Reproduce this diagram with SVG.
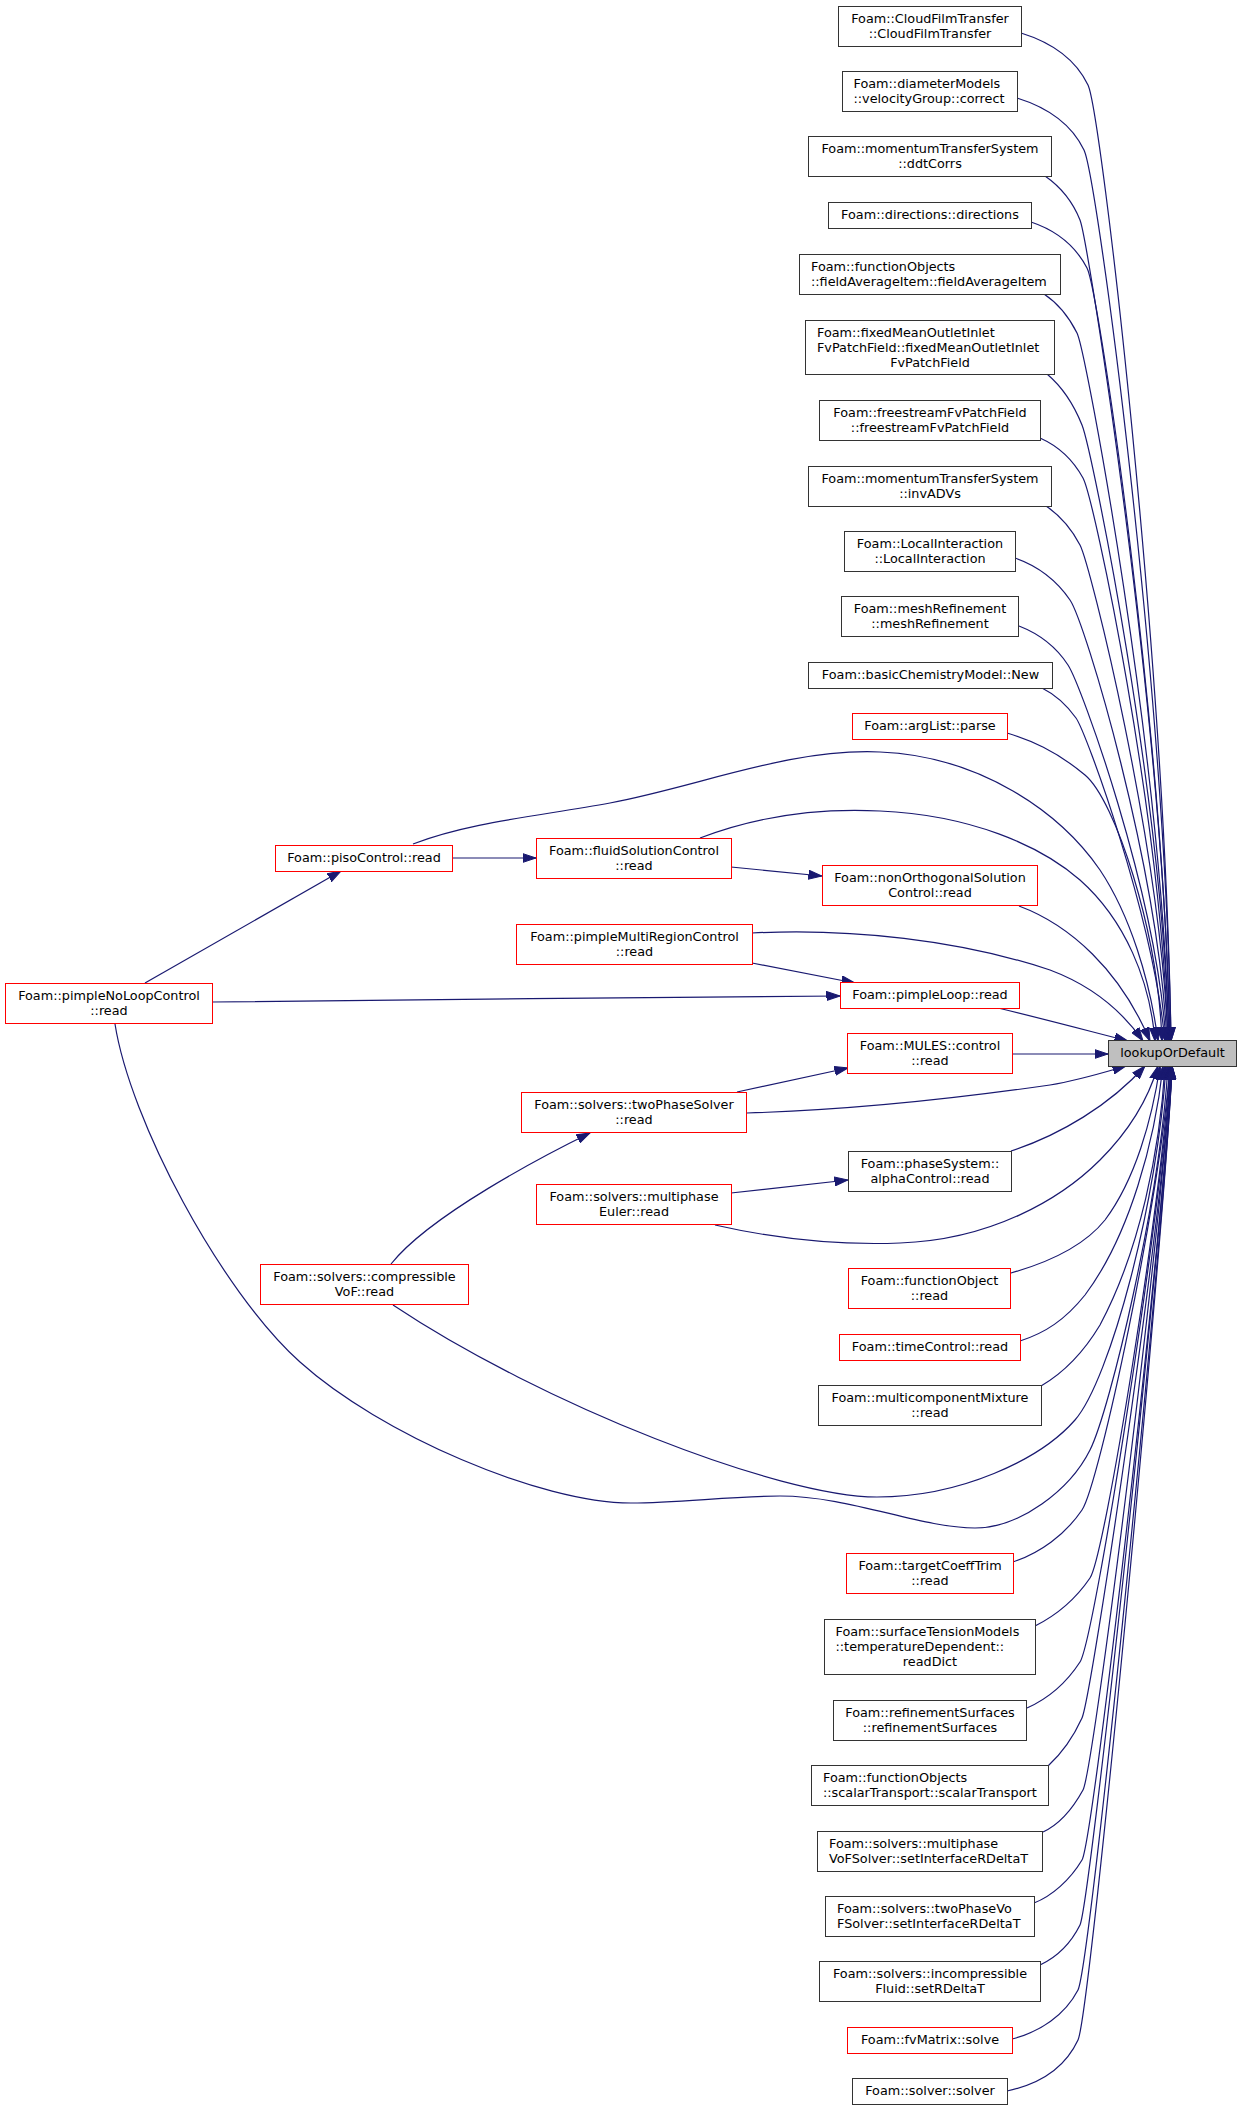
<svg xmlns="http://www.w3.org/2000/svg" width="1241" height="2110" viewBox="0 0 1241 2110">
<defs>
<style>
text{font-family:"DejaVu Sans","Liberation Sans",sans-serif;font-size:12.8px;fill:#000}
.m{text-anchor:middle}
.n rect{fill:#fff;stroke:#333;stroke-width:1}
.r rect{fill:#fff;stroke:#f00;stroke-width:1}
.g rect{fill:#bfbfbf;stroke:#333;stroke-width:1}
#edges path{fill:none;stroke:#191970;stroke-width:1.2;marker-end:url(#ah)}
</style>
<marker id="ah" markerUnits="userSpaceOnUse" markerWidth="14" markerHeight="10" viewBox="0 0 14 10" refX="13.5" refY="5" orient="auto">
<path d="M0,0.5 L13.5,5 L0,9.5 z" fill="#191970" stroke="#191970" stroke-width="1"/>
</marker>
</defs>
<rect width="1241" height="2110" fill="#fff"/>
<g id="edges">
<path d="M1021,33 C1050,42 1075,58 1088,85 S1165,659 1171,1041"/>
<path d="M1017,98 C1046,107 1071,123 1084,150 S1165,685 1171,1041"/>
<path d="M1045,176 C1058,185 1072,200 1080,220 S1163,713 1170,1041"/>
<path d="M1031,222 C1055,230 1075,245 1087,268 S1163,732 1170,1041"/>
<path d="M1044,294 C1056,302 1068,315 1077,333 S1162,758 1169,1041"/>
<path d="M1047,374 C1060,385 1072,400 1082,425 S1162,795 1169,1041"/>
<path d="M1040,438 C1058,446 1072,458 1083,478 S1161,816 1168,1041"/>
<path d="M1046,506 C1058,514 1070,526 1080,545 S1160,843 1168,1041"/>
<path d="M1015,558 C1035,565 1055,578 1070,600 S1158,865 1167,1041"/>
<path d="M1019,626 C1037,633 1055,645 1068,665 S1156,891 1166,1041"/>
<path d="M1042,688 C1054,694 1066,704 1076,718 S1152,912 1165,1041"/>
<path d="M1007,733 C1030,740 1055,750 1085,775 S1158,930 1162,1041"/>
<path d="M413,844 C470,822 540,816 610,803 C700,786 790,748 880,752 C980,756 1060,812 1100,870 C1130,915 1150,980 1158,1041"/>
<path d="M700,838 C760,815 820,808 880,811 C970,815 1040,845 1080,880 C1125,920 1150,980 1155,1041"/>
<path d="M1019,906 C1070,925 1120,970 1150,1041"/>
<path d="M752,933 C850,928 960,940 1050,970 C1090,985 1120,1008 1143,1041"/>
<path d="M998,1008 C1040,1018 1085,1030 1128,1041"/>
<path d="M1012,1054 L1108,1054"/>
<path d="M747,1113 C850,1110 960,1098 1050,1085 C1080,1080 1105,1072 1126,1066"/>
<path d="M1011,1151 C1060,1135 1110,1105 1145,1066"/>
<path d="M715,1225 C790,1242 850,1245 900,1243 C990,1240 1060,1200 1100,1160 C1130,1130 1148,1100 1158,1066"/>
<path d="M1011,1273 C1050,1262 1085,1245 1105,1220 C1135,1180 1152,1120 1160,1066"/>
<path d="M1020,1341 C1045,1333 1065,1320 1085,1295 C1130,1235 1155,1140 1163,1066"/>
<path d="M1041,1386 C1065,1372 1085,1350 1100,1325 C1140,1250 1160,1150 1165,1066"/>
<path d="M393,1305 C543,1405 780,1497 877,1497 C960,1497 1040,1460 1075,1420 S1158,1200 1166,1066"/>
<path d="M115,1024 C130,1120 220,1290 300,1362 C380,1434 540,1503 631,1503 C680,1503 730,1496 780,1496 C850,1496 920,1528 975,1528 C1020,1528 1070,1490 1090,1450 C1110,1410 1160,1200 1168,1066"/>
<path d="M1013,1562 C1040,1553 1065,1535 1082,1510 S1160,1200 1170,1066"/>
<path d="M1035,1626 C1055,1616 1075,1600 1090,1578 S1162,1200 1170,1066"/>
<path d="M1027,1708 C1045,1700 1065,1685 1080,1662 S1163,1200 1171,1066"/>
<path d="M1048,1766 C1060,1755 1072,1740 1082,1718 S1165,1200 1171,1066"/>
<path d="M1043,1832 C1058,1825 1072,1810 1083,1790 S1165,1200 1171,1066"/>
<path d="M1034,1903 C1052,1896 1070,1880 1082,1860 S1166,1200 1172,1066"/>
<path d="M1040,1965 C1055,1958 1070,1945 1080,1925 S1166,1200 1172,1066"/>
<path d="M1012,2039 C1040,2032 1065,2015 1078,1990 S1167,1200 1172,1066"/>
<path d="M1007,2091 C1040,2084 1065,2068 1078,2040 S1167,1200 1172,1066"/>
<path d="M145,983 L341,871"/>
<path d="M452,858 L536,858"/>
<path d="M731,867 L822,876"/>
<path d="M752,963 L855,983"/>
<path d="M212,1002 C400,1000 650,997 840,996"/>
<path d="M737,1092 L848,1068"/>
<path d="M731,1193 L848,1180"/>
<path d="M391,1264 C430,1215 545,1155 590,1133"/>
</g>
<g id="n1" class="n"><rect x="838.5" y="6.5" width="183" height="40"/><text class="m" x="930" y="23">Foam::CloudFilmTransfer</text><text class="m" x="930" y="38">::CloudFilmTransfer</text></g>
<g id="n2" class="n"><rect x="842.5" y="71.5" width="175" height="40"/><text x="853.5" y="88">Foam::diameterModels</text><text x="853.5" y="103">::velocityGroup::correct</text></g>
<g id="n3" class="n"><rect x="808.5" y="136.5" width="243" height="40"/><text class="m" x="930" y="153">Foam::momentumTransferSystem</text><text class="m" x="930" y="168">::ddtCorrs</text></g>
<g id="n4" class="n"><rect x="828.5" y="202.5" width="203" height="26"/><text class="m" x="930" y="219">Foam::directions::directions</text></g>
<g id="n5" class="n"><rect x="799.5" y="254.5" width="261" height="40"/><text x="811" y="271">Foam::functionObjects</text><text x="811" y="286">::fieldAverageItem::fieldAverageItem</text></g>
<g id="n6" class="n"><rect x="805.5" y="320.5" width="249" height="54"/><text x="817" y="337">Foam::fixedMeanOutletInlet</text><text x="817" y="352">FvPatchField::fixedMeanOutletInlet</text><text class="m" x="930" y="367">FvPatchField</text></g>
<g id="n7" class="n"><rect x="819.5" y="400.5" width="221" height="40"/><text class="m" x="930" y="417">Foam::freestreamFvPatchField</text><text class="m" x="930" y="432">::freestreamFvPatchField</text></g>
<g id="n8" class="n"><rect x="808.5" y="466.5" width="243" height="40"/><text class="m" x="930" y="483">Foam::momentumTransferSystem</text><text class="m" x="930" y="498">::invADVs</text></g>
<g id="n9" class="n"><rect x="844.5" y="531.5" width="171" height="40"/><text class="m" x="930" y="548">Foam::LocalInteraction</text><text class="m" x="930" y="563">::LocalInteraction</text></g>
<g id="n10" class="n"><rect x="841.5" y="596.5" width="177" height="40"/><text class="m" x="930" y="613">Foam::meshRefinement</text><text class="m" x="930" y="628">::meshRefinement</text></g>
<g id="n11" class="n"><rect x="808.5" y="662.5" width="244" height="26"/><text class="m" x="930.5" y="679">Foam::basicChemistryModel::New</text></g>
<g id="n12" class="r"><rect x="852.5" y="713.5" width="155" height="26"/><text class="m" x="930" y="730">Foam::argList::parse</text></g>
<g id="n13" class="r"><rect x="822.5" y="865.5" width="215" height="40"/><text class="m" x="930" y="882">Foam::nonOrthogonalSolution</text><text class="m" x="930" y="897">Control::read</text></g>
<g id="n14" class="r"><rect x="840.5" y="982.5" width="179" height="26"/><text class="m" x="930" y="999">Foam::pimpleLoop::read</text></g>
<g id="n15" class="r"><rect x="847.5" y="1033.5" width="165" height="40"/><text class="m" x="930" y="1050">Foam::MULES::control</text><text class="m" x="930" y="1065">::read</text></g>
<g id="n16" class="g"><rect x="1108.5" y="1040.5" width="128" height="26"/><text class="m" x="1172.5" y="1057">lookupOrDefault</text></g>
<g id="n17" class="n"><rect x="848.5" y="1151.5" width="163" height="40"/><text class="m" x="930" y="1168">Foam::phaseSystem::</text><text class="m" x="930" y="1183">alphaControl::read</text></g>
<g id="n18" class="r"><rect x="848.5" y="1268.5" width="162" height="40"/><text class="m" x="929.5" y="1285">Foam::functionObject</text><text class="m" x="929.5" y="1300">::read</text></g>
<g id="n19" class="r"><rect x="839.5" y="1334.5" width="181" height="26"/><text class="m" x="930" y="1351">Foam::timeControl::read</text></g>
<g id="n20" class="n"><rect x="818.5" y="1385.5" width="223" height="40"/><text class="m" x="930" y="1402">Foam::multicomponentMixture</text><text class="m" x="930" y="1417">::read</text></g>
<g id="n21" class="r"><rect x="846.5" y="1553.5" width="167" height="40"/><text class="m" x="930" y="1570">Foam::targetCoeffTrim</text><text class="m" x="930" y="1585">::read</text></g>
<g id="n22" class="n"><rect x="824.5" y="1619.5" width="211" height="55"/><text x="835.5" y="1636">Foam::surfaceTensionModels</text><text x="835.5" y="1651">::temperatureDependent::</text><text class="m" x="930" y="1666">readDict</text></g>
<g id="n23" class="n"><rect x="833.5" y="1700.5" width="193" height="40"/><text class="m" x="930" y="1717">Foam::refinementSurfaces</text><text class="m" x="930" y="1732">::refinementSurfaces</text></g>
<g id="n24" class="n"><rect x="811.5" y="1765.5" width="237" height="40"/><text x="823" y="1782">Foam::functionObjects</text><text x="823" y="1797">::scalarTransport::scalarTransport</text></g>
<g id="n25" class="n"><rect x="817.5" y="1831.5" width="225" height="40"/><text x="829" y="1848">Foam::solvers::multiphase</text><text x="829" y="1863">VoFSolver::setInterfaceRDeltaT</text></g>
<g id="n26" class="n"><rect x="825.5" y="1896.5" width="209" height="40"/><text x="837" y="1913">Foam::solvers::twoPhaseVo</text><text x="837" y="1928">FSolver::setInterfaceRDeltaT</text></g>
<g id="n27" class="n"><rect x="819.5" y="1961.5" width="221" height="40"/><text class="m" x="930" y="1978">Foam::solvers::incompressible</text><text class="m" x="930" y="1993">Fluid::setRDeltaT</text></g>
<g id="n28" class="r"><rect x="847.5" y="2027.5" width="165" height="26"/><text class="m" x="930" y="2044">Foam::fvMatrix::solve</text></g>
<g id="n29" class="n"><rect x="852.5" y="2078.5" width="155" height="26"/><text class="m" x="930" y="2095">Foam::solver::solver</text></g>
<g id="n30" class="r"><rect x="275.5" y="845.5" width="177" height="26"/><text class="m" x="364" y="862">Foam::pisoControl::read</text></g>
<g id="n31" class="r"><rect x="536.5" y="838.5" width="195" height="40"/><text class="m" x="634" y="855">Foam::fluidSolutionControl</text><text class="m" x="634" y="870">::read</text></g>
<g id="n32" class="r"><rect x="516.5" y="924.5" width="236" height="40"/><text class="m" x="634.5" y="941">Foam::pimpleMultiRegionControl</text><text class="m" x="634.5" y="956">::read</text></g>
<g id="n33" class="r"><rect x="5.5" y="983.5" width="207" height="40"/><text class="m" x="109" y="1000">Foam::pimpleNoLoopControl</text><text class="m" x="109" y="1015">::read</text></g>
<g id="n34" class="r"><rect x="521.5" y="1092.5" width="225" height="40"/><text class="m" x="634" y="1109">Foam::solvers::twoPhaseSolver</text><text class="m" x="634" y="1124">::read</text></g>
<g id="n35" class="r"><rect x="536.5" y="1184.5" width="195" height="40"/><text class="m" x="634" y="1201">Foam::solvers::multiphase</text><text class="m" x="634" y="1216">Euler::read</text></g>
<g id="n36" class="r"><rect x="260.5" y="1264.5" width="208" height="40"/><text class="m" x="364.5" y="1281">Foam::solvers::compressible</text><text class="m" x="364.5" y="1296">VoF::read</text></g>
</svg>
